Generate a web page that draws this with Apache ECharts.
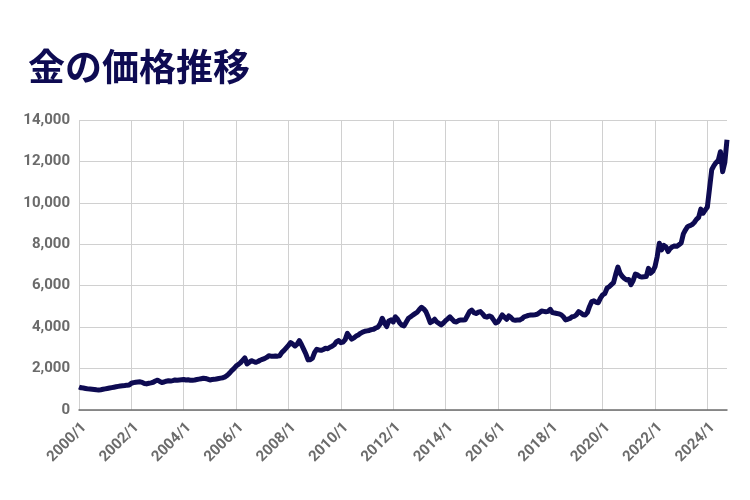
<!DOCTYPE html>
<html>
<head>
<meta charset="utf-8">
<script src="https://cdn.jsdelivr.net/npm/echarts@6/dist/echarts.min.js"></script>
<style>html,body{margin:0;padding:0;background:#fff}#c{width:750px;height:500px}</style>
</head>
<body>
<div id="c"></div>
<script>
const titleText = '金の価格推移';
const startYear = 2000;
const yTicks = { min: 0, max: 14000, interval: 2000 };

const v2000 = [1110, 1070, 1060, 1040, 1020, 1010, 1000, 990, 975, 965, 980, 1000];
const v2001 = [1020, 1040, 1060, 1080, 1100, 1120, 1140, 1160, 1170, 1180, 1200, 1210];
const v2002 = [1290, 1320, 1340, 1350, 1360, 1330, 1280, 1260, 1290, 1310, 1340, 1400];
const v2003 = [1440, 1380, 1330, 1350, 1390, 1410, 1400, 1420, 1450, 1440, 1450, 1460];
const v2004 = [1470, 1450, 1460, 1440, 1440, 1450, 1470, 1490, 1510, 1530, 1520, 1490];
const v2005 = [1450, 1470, 1480, 1500, 1520, 1540, 1560, 1600, 1680, 1780, 1900, 2000];
const v2006 = [2120, 2200, 2280, 2400, 2520, 2230, 2300, 2380, 2340, 2300, 2340, 2400];
const v2007 = [2440, 2480, 2540, 2620, 2600, 2590, 2610, 2600, 2620, 2780, 2880, 3000];
const v2008 = [3120, 3250, 3180, 3090, 3180, 3350, 3150, 2930, 2700, 2420, 2430, 2500];
const v2009 = [2780, 2930, 2900, 2880, 2920, 2980, 2960, 3030, 3080, 3150, 3300, 3350];
const v2010 = [3250, 3280, 3400, 3700, 3550, 3420, 3480, 3570, 3620, 3700, 3760, 3800];
const v2011 = [3820, 3840, 3880, 3900, 3960, 4000, 4150, 4430, 4200, 4030, 4300, 4350];
const v2012 = [4250, 4500, 4380, 4200, 4100, 4060, 4250, 4430, 4500, 4580, 4650, 4720];
const v2013 = [4850, 4960, 4880, 4750, 4500, 4220, 4280, 4380, 4250, 4180, 4110, 4200];
const v2014 = [4310, 4400, 4500, 4380, 4270, 4250, 4320, 4350, 4340, 4360, 4550, 4750];
const v2015 = [4820, 4700, 4660, 4720, 4750, 4640, 4510, 4480, 4540, 4500, 4350, 4200];
const v2016 = [4250, 4420, 4590, 4480, 4380, 4540, 4460, 4350, 4330, 4340, 4350, 4400];
const v2017 = [4500, 4530, 4570, 4590, 4590, 4600, 4620, 4700, 4780, 4760, 4740, 4760];
const v2018 = [4860, 4700, 4680, 4660, 4640, 4600, 4500, 4350, 4380, 4420, 4500, 4520];
const v2019 = [4600, 4750, 4690, 4600, 4590, 4700, 5000, 5230, 5270, 5200, 5180, 5400];
const v2020 = [5560, 5620, 5880, 5950, 6050, 6150, 6550, 6900, 6600, 6450, 6350, 6280];
const v2021 = [6300, 6050, 6250, 6560, 6520, 6440, 6420, 6430, 6440, 6840, 6600, 6700];
const v2022 = [6920, 7400, 8050, 7730, 7950, 7880, 7650, 7800, 7880, 7920, 7900, 7980];
const v2023 = [8060, 8500, 8700, 8860, 8900, 8950, 9050, 9200, 9300, 9700, 9500, 9650];
const v2024 = [9800, 10700, 11600, 11800, 11950, 12050, 12470, 11500, 11950, 13050];

const yearly = [v2000, v2001, v2002, v2003, v2004, v2005, v2006, v2007, v2008, v2009, v2010,
  v2011, v2012, v2013, v2014, v2015, v2016, v2017, v2018, v2019, v2020, v2021, v2022, v2023, v2024];

const categories = [];
const values = [];
yearly.forEach((arr, i) => {
  arr.forEach((v, m) => {
    categories.push((startYear + i) + '/' + (m + 1));
    values.push(v);
  });
});

const navy = '#0e0b52';
const chart = echarts.init(document.getElementById('c'), null, { renderer: 'canvas' });
chart.setOption({
  animation: false,
  backgroundColor: '#ffffff',
  title: {
    text: titleText,
    left: 23,
    top: 43,
    textStyle: {
      color: navy,
      fontSize: 37,
      fontWeight: 'bold',
      fontFamily: '"Noto Sans CJK JP", sans-serif'
    }
  },
  grid: { left: 79, right: 23, top: 120, bottom: 90, containLabel: false },
  xAxis: {
    type: 'category',
    data: categories,
    boundaryGap: false,
    axisLine: { show: true, lineStyle: { color: '#6e6e6e', width: 1.5 } },
    axisTick: { show: false },
    axisLabel: {
      interval: 23,
      rotate: 45,
      align: 'right',
      verticalAlign: 'top',
      color: '#6b6b6b',
      fontSize: 15,
      fontWeight: 'bold',
      fontFamily: 'Roboto, sans-serif',
      margin: 10
    },
    splitLine: { show: true, interval: 23, lineStyle: { color: '#d0d0d0', width: 1 } }
  },
  yAxis: {
    type: 'value',
    min: yTicks.min,
    max: yTicks.max,
    interval: yTicks.interval,
    axisLine: { show: false },
    axisTick: { show: false },
    axisLabel: {
      color: '#6b6b6b',
      fontSize: 15,
      fontWeight: 'bold',
      fontFamily: 'Roboto, sans-serif',
      margin: 9,
      formatter: v => v.toLocaleString('en-US')
    },
    splitLine: { show: true, lineStyle: { color: '#d0d0d0', width: 1 } }
  },
  series: [{
    type: 'line',
    data: values,
    showSymbol: false,
    smooth: false,
    lineStyle: { color: navy, width: 5, join: 'round' },
    itemStyle: { color: navy }
  }]
});
</script>
</body>
</html>
